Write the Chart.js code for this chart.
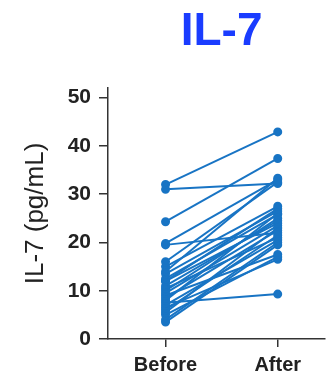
<!DOCTYPE html>
<html lang="en">
<head>
<meta charset="UTF-8">
<title>IL-7</title>
<script src="https://cdn.jsdelivr.net/npm/chart.js"></script>
<style>
  html, body { margin: 0; padding: 0; background: #fff; }
  #wrap { width: 330px; height: 381px; }
</style>
</head>
<body>
<div id="wrap"><canvas id="myChart" width="330" height="381"></canvas></div>
<script>
// paired samples, one entry per subject
const groups = ['Before', 'After'];
const before = [32.0, 31.0, 24.3, 19.8, 19.5, 16.0, 15.0, 14.0, 13.5, 12.5, 12.0, 11.0, 10.5, 10.0,
                9.5, 9.0, 8.5, 8.0, 7.5, 7.0, 6.5, 6.0, 5.5, 5.0, 4.0, 3.5, 12.0];
const after  = [42.9, 32.2, 37.4, 33.0, 22.0, 32.5, 27.5, 33.3, 26.5, 25.8, 27.0, 24.5, 21.0, 25.0,
                23.5, 17.5, 22.5, 26.0, 9.3, 20.5, 16.5, 21.5, 23.0, 17.0, 20.0, 19.5, 24.0];
const yTicks = [0, 10, 20, 30, 40, 50];
const titleText = 'IL-7';
const yTitle = 'IL-7 (pg/mL)';

const blue = '#1874c4';
const axisColor = '#333';
const fontFamily = "'Liberation Sans', Arial, sans-serif";

var datasets = [];
for (let i = 0; i < before.length; i++) {
  datasets.push({
    data: [{x: 0, y: before[i]}, {x: 1, y: after[i]}],
    showLine: true,
    borderColor: blue,
    backgroundColor: blue,
    borderWidth: 2,
    pointRadius: 3.5,
    pointHoverRadius: 3.5,
    clip: false
  });
}

// big title, centred over the two groups
const bigTitle = {
  id: 'bigTitle',
  afterDraw(chart) {
    const c = chart.ctx;
    const x = chart.scales.x.getPixelForValue(0.5);
    c.save();
    c.font = 'bold 46px ' + fontFamily;
    c.fillStyle = '#1a3cff';
    c.textAlign = 'center';
    c.textBaseline = 'middle';
    c.fillText(titleText, x, 32);
    c.restore();
  }
};

const ctx = document.getElementById('myChart');
new Chart(ctx, {
  type: 'scatter',
  data: { datasets: datasets },
  options: {
    responsive: false,
    animation: false,
    layout: { padding: { top: 88, left: 0, right: 0, bottom: 0 } },
    plugins: { legend: { display: false }, tooltip: { enabled: false } },
    scales: {
      x: {
        type: 'linear',
        min: -0.513,
        max: 1.417,
        afterBuildTicks: (s) => { s.ticks = groups.map((g, i) => ({value: i})); },
        afterFit: (s) => { s.height = 42; s.paddingRight = 0; },
        grid: { drawOnChartArea: false, drawTicks: true, tickLength: 8, color: axisColor, lineWidth: 1.5 },
        border: { display: true, color: axisColor, width: 1.5 },
        ticks: {
          padding: 6,
          color: '#222',
          font: { family: fontFamily, size: 20, weight: 'bold' },
          callback: (v) => groups[v]
        }
      },
      y: {
        min: 0,
        max: 52,
        afterBuildTicks: (s) => { s.ticks = yTicks.map(v => ({value: v})); },
        afterFit: (s) => { s.width = 108; },
        grid: { drawOnChartArea: false, drawTicks: true, tickLength: 9, color: axisColor, lineWidth: 1.5 },
        border: { display: true, color: axisColor, width: 1.5 },
        ticks: {
          padding: 8,
          color: '#222',
          font: { family: fontFamily, size: 21, weight: 'bold' }
        },
        title: {
          display: true,
          text: yTitle,
          color: '#222',
          font: { family: fontFamily, size: 26 },
          padding: { top: 20, bottom: 0 }
        }
      }
    }
  },
  plugins: [bigTitle]
});
</script>
</body>
</html>
